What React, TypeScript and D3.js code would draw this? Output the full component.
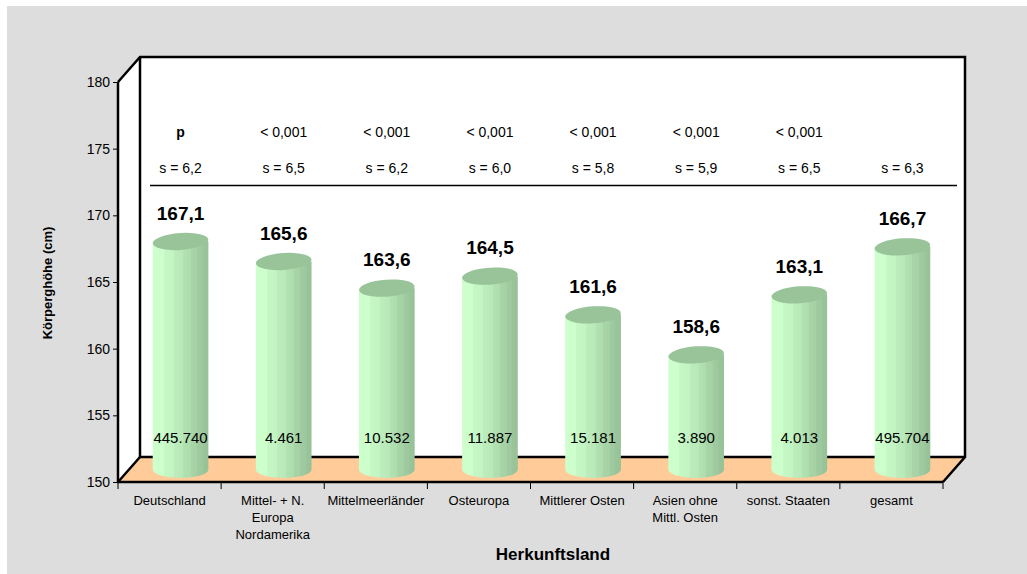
import React, { useEffect, useRef } from 'react';
import * as d3 from 'd3';

const categories: string[][] = [
    ['Deutschland'],
    ['Mittel- + N.', 'Europa', 'Nordamerika'],
    ['Mittelmeerländer'],
    ['Osteuropa'],
    ['Mittlerer Osten'],
    ['Asien ohne', 'Mittl. Osten'],
    ['sonst. Staaten'],
    ['gesamt']
];
const heights = [167.1, 165.6, 163.6, 164.5, 161.6, 158.6, 163.1, 166.7];
const counts = ['445.740', '4.461', '10.532', '11.887', '15.181', '3.890', '4.013', '495.704'];
const pValues = ['p', '< 0,001', '< 0,001', '< 0,001', '< 0,001', '< 0,001', '< 0,001', ''];
const sdValues = ['6,2', '6,5', '6,2', '6,0', '5,8', '5,9', '6,5', '6,3'];
const yTicks = [150, 155, 160, 165, 170, 175, 180];

const FONT = "Arial, 'Liberation Sans', sans-serif";

const App: React.FC = () => {
    const svgRef = useRef<SVGSVGElement>(null);

    useEffect(() => {
        const svg = d3.select(svgRef.current);
        svg.selectAll('*').remove();

        const width = 1027;
        const height = 574;
        const left = 118, right = 943, bottom = 482, top = 82;
        const dx = 22, dy = -25; // depth offset

        const ids = categories.map((_, i) => String(i));
        const x = d3.scaleBand().domain(ids).range([left, right]).padding(0);
        const y = d3.scaleLinear().domain([150, 180]).range([bottom, top]);

        // background
        svg.append('rect').attr('x', 0).attr('y', 0).attr('width', width).attr('height', height).attr('fill', '#fff');
        svg.append('rect').attr('x', 7).attr('y', 6).attr('width', width - 7).attr('height', height - 6).attr('fill', '#dddddd');

        // gradient for cylinder body
        const defs = svg.append('defs');
        const grad = defs.append('linearGradient').attr('id', 'cyl').attr('x1', 0).attr('x2', 1).attr('y1', 0).attr('y2', 0);
        const stops: [number, string][] = [
            [0, '#ccffcc'], [0.2, '#ccffcc'], [0.2, '#c6f8c6'], [0.38, '#c2f3c2'], [0.38, '#bdedbd'],
            [0.55, '#b8e8b8'], [0.55, '#b2e2b2'], [0.68, '#addcad'], [0.68, '#a8d5a8'],
            [0.8, '#a5d1a5'], [0.8, '#a0cba0'], [0.9, '#9ec89e'], [0.9, '#9ac49a'], [1, '#97c197']
        ];
        stops.forEach(([o, c]) => grad.append('stop').attr('offset', o).attr('stop-color', c));

        // walls
        const backL = left + dx, backR = right + dx;
        const backTop = top + dy, backBottom = bottom + dy;
        svg.append('rect').attr('x', backL).attr('y', backTop).attr('width', backR - backL).attr('height', backBottom - backTop)
            .attr('fill', '#fff');
        svg.append('path')
            .attr('d', `M${left},${top}L${backL},${backTop}L${backL},${backBottom}L${left},${bottom}Z`)
            .attr('fill', '#fff');
        // floor
        svg.append('path')
            .attr('d', `M${left},${bottom}L${backL},${backBottom}L${backR},${backBottom}L${right},${bottom}Z`)
            .attr('fill', '#ffcc99');

        // wall frame lines
        const frame = svg.append('g').attr('stroke', '#000').attr('stroke-width', 2.5).attr('fill', 'none');
        frame.append('path').attr('d', `M${left},${top}L${backL},${backTop}L${backR},${backTop}L${backR},${backBottom}L${right},${bottom}`);
        frame.append('path').attr('d', `M${backL},${backTop}L${backL},${backBottom}L${backR},${backBottom}`);
        frame.append('path').attr('d', `M${left},${bottom}L${backL},${backBottom}`);
        frame.append('path').attr('d', `M${left},${top}L${left},${bottom}L${right},${bottom}`);

        // y axis ticks and labels
        const yAxis = svg.append('g').attr('transform', `translate(${left},0)`)
            .call(d3.axisLeft(y).tickValues(yTicks).tickSize(5).tickPadding(3).tickFormat(d3.format('d')));
        yAxis.select('.domain').remove();
        yAxis.selectAll('line').attr('stroke', '#000').attr('stroke-width', 1);
        yAxis.selectAll('text').style('font-size', '14px').style('font-family', FONT).attr('fill', '#000');

        // x axis ticks
        const xTicks = ids.map(id => x(id) as number).concat([right]);
        svg.append('g').selectAll('line').data(xTicks).enter().append('line')
            .attr('x1', d => d).attr('x2', d => d).attr('y1', bottom).attr('y2', bottom + 7)
            .attr('stroke', '#000').attr('stroke-width', 1);

        // category labels
        const catG = svg.append('g').style('font-family', FONT).style('font-size', '13px').attr('fill', '#000');
        categories.forEach((lines, i) => {
            const cx = (x(ids[i]) as number) + x.bandwidth() / 2;
            lines.forEach((ln, j) => {
                catG.append('text').attr('x', cx).attr('y', 505 + j * 17).attr('text-anchor', 'middle').text(ln);
            });
        });

        // cylinders
        const rx = x.bandwidth() * 0.27;
        const ry = 8.5;
        const bars = svg.append('g');
        heights.forEach((v, i) => {
            const cx = (x(ids[i]) as number) + x.bandwidth() / 2 + dx / 2;
            const yTop = y(v) + dy / 2;
            const yBot = y(150) + dy / 2;
            const g = bars.append('g');
            g.append('path')
                .attr('d', `M${cx - rx},${yTop}L${cx - rx},${yBot}A${rx},${ry} 0 0 0 ${cx + rx},${yBot}L${cx + rx},${yTop}Z`)
                .attr('fill', 'url(#cyl)');
            g.append('ellipse')
                .attr('cx', cx).attr('cy', yTop).attr('rx', rx).attr('ry', ry)
                .attr('transform', `rotate(-4 ${cx} ${yTop})`)
                .attr('fill', '#99c399');
            // value label
            g.append('text').attr('x', cx).attr('y', yTop - 22).attr('text-anchor', 'middle')
                .style('font-family', FONT).style('font-size', '19px').style('font-weight', 'bold')
                .text(d3.format('.1f')(v).replace('.', ','));
            // count label
            g.append('text').attr('x', cx).attr('y', 443).attr('text-anchor', 'middle')
                .style('font-family', FONT).style('font-size', '15px')
                .text(counts[i]);
            // p and s rows
            g.append('text').attr('x', cx).attr('y', 137).attr('text-anchor', 'middle')
                .style('font-family', FONT).style('font-size', '14px')
                .style('font-weight', pValues[i] === 'p' ? 'bold' : 'normal')
                .text(pValues[i]);
            g.append('text').attr('x', cx).attr('y', 173).attr('text-anchor', 'middle')
                .style('font-family', FONT).style('font-size', '14px')
                .text(`s = ${sdValues[i]}`);
        });

        // separator line under stats
        svg.append('line').attr('x1', 150).attr('x2', 957).attr('y1', 185.5).attr('y2', 185.5)
            .attr('stroke', '#000').attr('stroke-width', 1.5);

        // axis titles
        svg.append('text').attr('transform', `translate(52,283) rotate(-90)`).attr('text-anchor', 'middle')
            .style('font-family', FONT).style('font-size', '13px').style('font-weight', 'bold')
            .text('Körperghöhe (cm)');
        svg.append('text').attr('x', 553).attr('y', 560).attr('text-anchor', 'middle')
            .style('font-family', FONT).style('font-size', '17px').style('font-weight', 'bold')
            .text('Herkunftsland');
    }, []);

    return (
        <svg
            ref={svgRef}
            width={1027}
            height={574}
            style={{ position: 'absolute', left: 0, top: 0, display: 'block' }}
        />
    );
};

export default App;
